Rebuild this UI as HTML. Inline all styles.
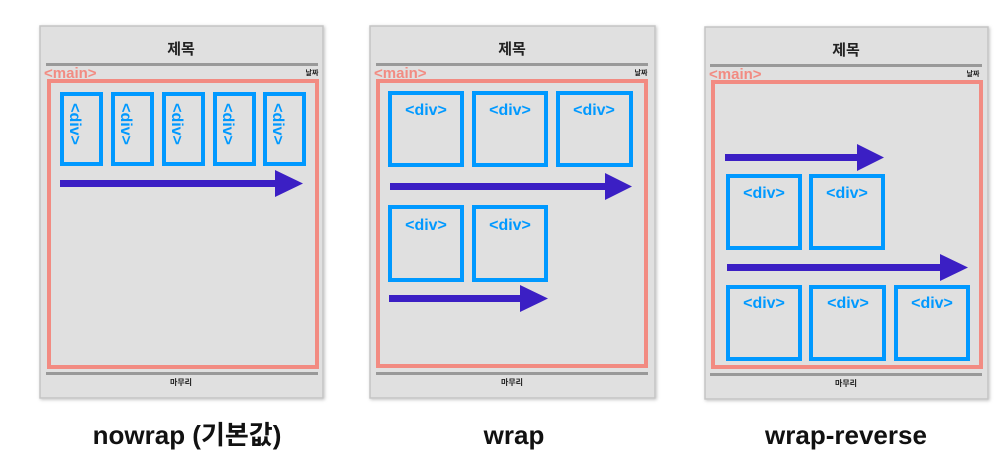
<!DOCTYPE html>
<html><head><meta charset="utf-8"><style>
html,body{margin:0;padding:0;background:#fff;width:1002px;height:468px;overflow:hidden}
svg{display:block}
text{font-family:"Liberation Sans","Noto Sans CJK KR",sans-serif;font-weight:700}
</style></head><body>
<svg width="1002" height="468" viewBox="0 0 1002 468" xmlns="http://www.w3.org/2000/svg">
<defs>
<filter id="sh" x="-5%" y="-5%" width="110%" height="110%"><feDropShadow dx="1" dy="1" stdDeviation="1.5" flood-color="#000" flood-opacity="0.25"/></filter>
</defs>
<g font-weight="bold">
<!-- Panel 1 -->
<rect x="40" y="26" width="283" height="372" fill="#e0e0e0" stroke="#c4c4c4" stroke-width="1.5" filter="url(#sh)"/>
<text x="181" y="54" font-size="15" text-anchor="middle" fill="#222">제목</text>
<rect x="46" y="63" width="272" height="3" fill="#999"/>
<text x="44" y="78" font-size="15" fill="#f28b82">&lt;main&gt;</text>
<text x="312" y="75" font-size="7" text-anchor="middle" fill="#222">날짜</text>
<rect x="49" y="81" width="268" height="286" fill="none" stroke="#f28b82" stroke-width="4"/>
<rect x="46" y="372" width="272" height="3" fill="#999"/>
<text x="181" y="385" font-size="8" text-anchor="middle" fill="#222">마무리</text>
<g fill="none" stroke="#0099ff" stroke-width="4">
<rect x="62" y="94" width="39" height="70"/><rect x="113" y="94" width="39" height="70"/><rect x="164" y="94" width="39" height="70"/><rect x="215" y="94" width="39" height="70"/><rect x="265" y="94" width="39" height="70"/>
</g>
<g font-size="16" fill="#0099ff" text-anchor="middle">
<text transform="translate(76,124) rotate(90)" y="6">&lt;div&gt;</text>
<text transform="translate(127,124) rotate(90)" y="6">&lt;div&gt;</text>
<text transform="translate(178,124) rotate(90)" y="6">&lt;div&gt;</text>
<text transform="translate(229,124) rotate(90)" y="6">&lt;div&gt;</text>
<text transform="translate(279,124) rotate(90)" y="6">&lt;div&gt;</text>
</g>
<rect x="60" y="180" width="218" height="7" fill="#3b1fc4"/>
<polygon points="275,170 303,183.5 275,197" fill="#3b1fc4"/>
<text x="187" y="444" font-size="26" text-anchor="middle" fill="#111">nowrap (기본값)</text>

<!-- Panel 2 -->
<rect x="370" y="26" width="285" height="372" fill="#e0e0e0" stroke="#c4c4c4" stroke-width="1.5" filter="url(#sh)"/>
<text x="512" y="54" font-size="15" text-anchor="middle" fill="#222">제목</text>
<rect x="376" y="63" width="272" height="3" fill="#999"/>
<text x="374" y="78" font-size="15" fill="#f28b82">&lt;main&gt;</text>
<text x="641" y="75" font-size="7" text-anchor="middle" fill="#222">날짜</text>
<rect x="378" y="81" width="268" height="285" fill="none" stroke="#f28b82" stroke-width="4"/>
<rect x="376" y="372" width="272" height="3" fill="#999"/>
<text x="512" y="385" font-size="8" text-anchor="middle" fill="#222">마무리</text>
<g fill="none" stroke="#0099ff" stroke-width="4">
<rect x="390" y="93" width="72" height="72"/><rect x="474" y="93" width="72" height="72"/><rect x="558" y="93" width="73" height="72"/>
<rect x="390" y="207" width="72" height="73"/><rect x="474" y="207" width="72" height="73"/>
</g>
<g font-size="16" fill="#0099ff" text-anchor="middle">
<text x="426" y="115">&lt;div&gt;</text><text x="510" y="115">&lt;div&gt;</text><text x="594" y="115">&lt;div&gt;</text>
<text x="426" y="230">&lt;div&gt;</text><text x="510" y="230">&lt;div&gt;</text>
</g>
<rect x="390" y="183" width="218" height="7" fill="#3b1fc4"/>
<polygon points="605,173 632,186.5 605,200" fill="#3b1fc4"/>
<rect x="389" y="295" width="134" height="7" fill="#3b1fc4"/>
<polygon points="520,285 548,298.5 520,312" fill="#3b1fc4"/>
<text x="514" y="444" font-size="26" text-anchor="middle" fill="#111">wrap</text>

<!-- Panel 3 -->
<rect x="705" y="27" width="283" height="372" fill="#e0e0e0" stroke="#c4c4c4" stroke-width="1.5" filter="url(#sh)"/>
<text x="846" y="55" font-size="15" text-anchor="middle" fill="#222">제목</text>
<rect x="710" y="64" width="272" height="3" fill="#999"/>
<text x="709" y="79" font-size="15" fill="#f28b82">&lt;main&gt;</text>
<text x="973" y="76" font-size="7" text-anchor="middle" fill="#222">날짜</text>
<rect x="713" y="82" width="268" height="285" fill="none" stroke="#f28b82" stroke-width="4"/>
<rect x="710" y="373" width="272" height="3" fill="#999"/>
<text x="846" y="386" font-size="8" text-anchor="middle" fill="#222">마무리</text>
<g fill="none" stroke="#0099ff" stroke-width="4">
<rect x="728" y="176" width="72" height="72"/><rect x="811" y="176" width="72" height="72"/>
<rect x="728" y="287" width="72" height="72"/><rect x="811" y="287" width="73" height="72"/><rect x="896" y="287" width="72" height="72"/>
</g>
<g font-size="16" fill="#0099ff" text-anchor="middle">
<text x="764" y="198">&lt;div&gt;</text><text x="847" y="198">&lt;div&gt;</text>
<text x="764" y="308">&lt;div&gt;</text><text x="848" y="308">&lt;div&gt;</text><text x="932" y="308">&lt;div&gt;</text>
</g>
<rect x="725" y="154" width="134" height="7" fill="#3b1fc4"/>
<polygon points="857,144 884,157.5 857,171" fill="#3b1fc4"/>
<rect x="727" y="264" width="218" height="7" fill="#3b1fc4"/>
<polygon points="940,254 968,267.5 940,281" fill="#3b1fc4"/>
<text x="846" y="444" font-size="26" text-anchor="middle" fill="#111">wrap-reverse</text>
</g>
</svg>
</body></html>
